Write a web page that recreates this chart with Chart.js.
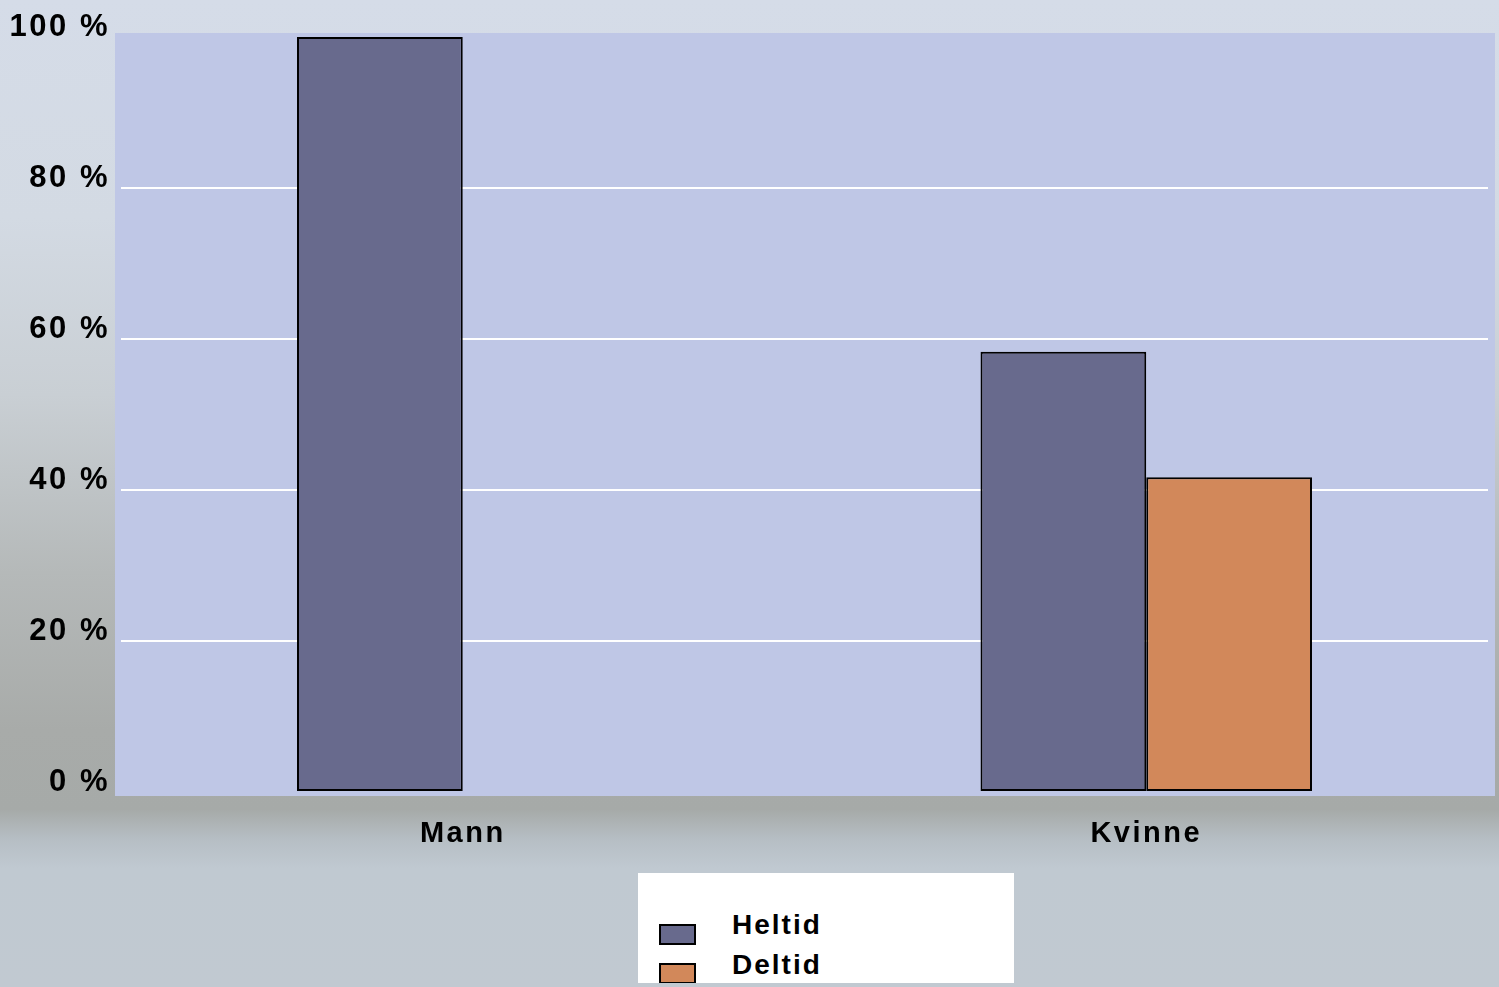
<!DOCTYPE html>
<html>
<head>
<meta charset="utf-8">
<script src="https://cdn.jsdelivr.net/npm/chart.js"></script>
<style>
  body { margin: 0; }
  #wrap {
    position: relative; width: 1499px; height: 987px; overflow: hidden;
    background: linear-gradient(180deg, #d5dce8 0%, #d3dae3 22%, #c9cfd4 40%, #b5b9b9 58%, #a8aba9 74%, #a6aaa8 82%, #b6bec4 85%, #c0c9d1 88%, #c1c9d1 100%);
  }
  #legend {
    position: absolute; left: 638px; top: 873px; width: 376px; height: 110px;
    background: #fff; overflow: hidden;
    font-family: "Liberation Sans", Arial, sans-serif; font-weight: bold; font-size: 28px;
    letter-spacing: 2px; line-height: 1;
  }
  .sw { position: absolute; left: 21px; width: 33px; height: 17px; border: 2px solid #000; }
  .lt { position: absolute; left: 94px; color: #000; }
</style>
</head>
<body>
<div id="wrap">
  <canvas id="myChart"></canvas>
  <div id="legend"></div>
</div>
<script>
const ctx = document.getElementById('myChart');

var categories = ['Mann', 'Kvinne']
var series_names = ['Heltid', 'Deltid']
var heltid = [100, 58.3]
var deltid = [0, 41.7]
var y_ticks = [0, 20, 40, 60, 80, 100]
var colors = ['#686a8d', '#d2885a']

var font = '"Liberation Sans", Arial, sans-serif'

// lavender plot area behind the bars
const plotBg = {
  id: 'plotBg',
  beforeDraw(chart) {
    var c = chart.ctx
    var a = chart.chartArea
    c.save()
    c.fillStyle = '#bfc7e6'
    c.fillRect(a.left - 6, a.top - 4, a.right - a.left + 13, a.bottom - a.top + 8)
    c.restore()
    c.letterSpacing = '2.5px'
  }
}

var webchart = new Chart(ctx, {
  type: 'bar',
  data: {
    labels: categories,
    datasets: [
      { label: series_names[0], data: heltid, backgroundColor: colors[0] },
      { label: series_names[1], data: deltid, backgroundColor: colors[1] }
    ]
  },
  options: {
    responsive: true,
    maintainAspectRatio: false,
    animation: {duration: 0},
    layout: { padding: { top: 37, right: 11, bottom: 135, left: 0 } },
    datasets: {
      bar: {
        categoryPercentage: 0.485,
        barPercentage: 1,
        borderColor: '#000',
        borderWidth: c => (c.raw === 0 ? 0 : 2),
        borderSkipped: false
      }
    },
    plugins: {
      legend: { display: false },
      tooltip: { enabled: false }
    },
    scales: {
      x: {
        grid: { display: false },
        border: { display: false },
        ticks: { color: '#000', padding: 17, font: { family: font, weight: 'bold', size: 29 } },
        afterFit: s => { s.height = 60 }
      },
      y: {
        min: 0,
        max: 100,
        afterBuildTicks: s => { s.ticks = y_ticks.map(v => ({ value: v })) },
        grid: {
          drawTicks: false,
          lineWidth: 2,
          color: c => (c.tick && (c.tick.value === 0 || c.tick.value === 100) ? 'rgba(0,0,0,0)' : '#ffffff')
        },
        border: { display: false },
        ticks: {
          padding: 11,
          color: '#000',
          font: { family: font, weight: 'bold', size: 31, lineHeight: 0.63 },
          // empty second line lifts the label so it sits on its gridline
          callback: v => [v + ' %', '']
        },
        afterFit: s => { s.width = 121 }
      }
    }
  },
  plugins: [plotBg]
});

// legend box built from the datasets
var lg = document.getElementById('legend')
webchart.data.datasets.forEach(function(ds, i) {
  var sw = document.createElement('div')
  sw.className = 'sw'
  sw.style.top = (51 + i * 39) + 'px'
  sw.style.background = ds.backgroundColor
  lg.appendChild(sw)
  var t = document.createElement('div')
  t.className = 'lt'
  t.style.top = (38 + i * 40) + 'px'
  t.appendChild(document.createTextNode(ds.label))
  lg.appendChild(t)
})
</script>
</body>
</html>
